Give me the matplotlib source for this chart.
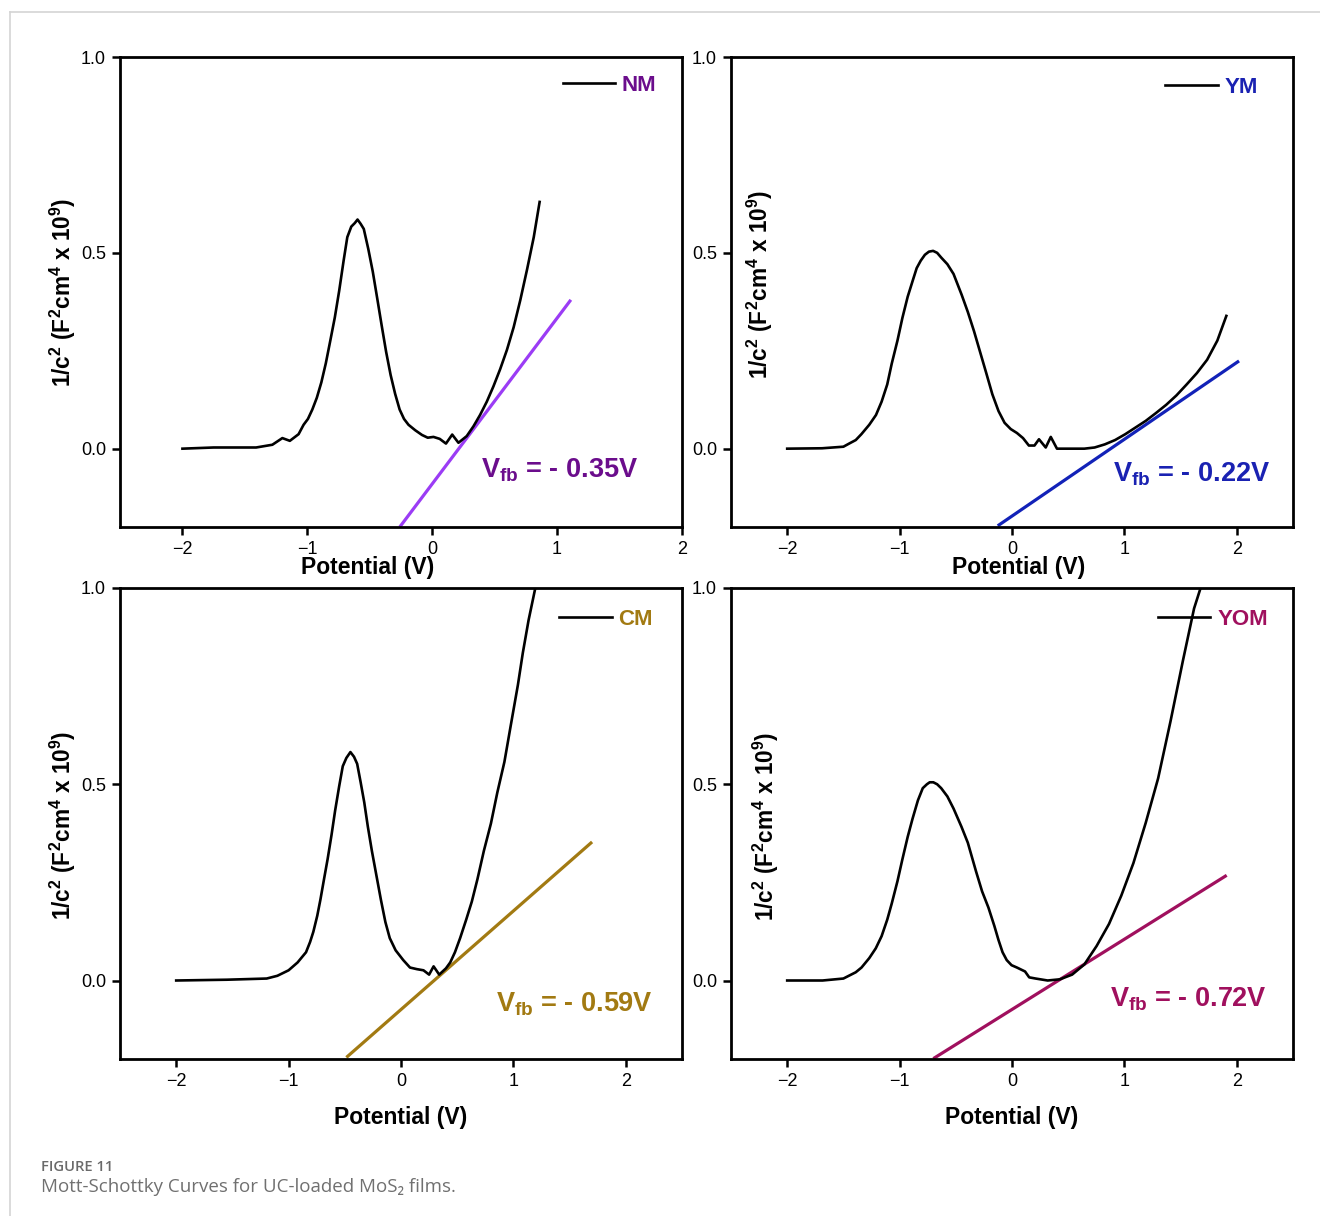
import matplotlib
matplotlib.use("Agg")
import matplotlib.pyplot as plt
from matplotlib.lines import Line2D

plt.rcParams.update({
    "font.family": ["Liberation Sans", "DejaVu Sans"],
    "mathtext.fontset": "custom",
    "mathtext.rm": "Liberation Sans:bold",
    "mathtext.bf": "Liberation Sans:bold",
    "mathtext.it": "Liberation Sans:bold",
    "mathtext.sf": "Liberation Sans:bold",
})

# ---- Mott-Schottky data: potential (V) vs 1/C^2 (F^2 cm^4 x 10^9) ----
nm_v = [-2.0, -1.75, -1.41, -1.28, -1.20, -1.14, -1.07, -1.03, -0.995, -0.96, -0.924,
        -0.888, -0.852, -0.816, -0.78, -0.745, -0.709, -0.68, -0.648, -0.62, -0.598,
        -0.573, -0.548, -0.512, -0.476, -0.44, -0.405, -0.369, -0.333, -0.297, -0.261,
        -0.226, -0.19, -0.136, -0.082, -0.036, 0.01, 0.06, 0.11, 0.16, 0.21, 0.276,
        0.33, 0.383, 0.437, 0.49, 0.544, 0.598, 0.652, 0.705, 0.759, 0.813, 0.86]
nm_c = [0.0, 0.003, 0.003, 0.010, 0.027, 0.020, 0.037, 0.061, 0.076, 0.100, 0.130,
        0.169, 0.218, 0.276, 0.335, 0.403, 0.481, 0.540, 0.567, 0.576, 0.585,
        0.574, 0.561, 0.510, 0.452, 0.383, 0.315, 0.247, 0.188, 0.140, 0.100,
        0.076, 0.061, 0.047, 0.035, 0.028, 0.030, 0.025, 0.013, 0.036, 0.015, 0.032,
        0.057, 0.086, 0.120, 0.159, 0.203, 0.252, 0.310, 0.379, 0.457, 0.540, 0.630]

ym_v = [-2.0, -1.69, -1.50, -1.449, -1.39, -1.34, -1.27, -1.21, -1.16, -1.11, -1.07,
        -1.019, -0.975, -0.928, -0.88, -0.848, -0.812, -0.775, -0.739, -0.702, -0.666,
        -0.63, -0.575, -0.52, -0.448, -0.393, -0.338, -0.284, -0.229, -0.175, -0.12,
        -0.066, -0.011, 0.044, 0.098, 0.15, 0.20, 0.24, 0.30, 0.345, 0.40, 0.644,
        0.735, 0.826, 0.917, 1.008, 1.099, 1.19, 1.281, 1.372, 1.463, 1.554, 1.645,
        1.736, 1.827, 1.907]
ym_c = [0.0, 0.001, 0.005, 0.013, 0.022, 0.037, 0.061, 0.086, 0.120, 0.164, 0.217,
        0.276, 0.334, 0.388, 0.432, 0.461, 0.480, 0.495, 0.503, 0.505, 0.500,
        0.488, 0.471, 0.446, 0.393, 0.349, 0.300, 0.247, 0.193, 0.139, 0.096,
        0.066, 0.050, 0.040, 0.027, 0.008, 0.008, 0.024, 0.003, 0.030, 0.0, 0.0,
        0.003, 0.011, 0.022, 0.037, 0.054, 0.071, 0.091, 0.112, 0.136, 0.164, 0.193,
        0.227, 0.276, 0.339]

cm_v = [-2.0, -1.55, -1.195, -1.10, -1.0, -0.92, -0.845, -0.809, -0.78, -0.745, -0.717,
        -0.685, -0.653, -0.618, -0.586, -0.55, -0.518, -0.486, -0.45, -0.418, -0.39,
        -0.359, -0.327, -0.295, -0.259, -0.219, -0.179, -0.139, -0.10, -0.048, 0.02,
        0.08, 0.14, 0.20, 0.25, 0.29, 0.34, 0.40, 0.438, 0.48, 0.526, 0.58, 0.63, 0.68,
        0.737, 0.80, 0.857, 0.92, 0.976, 1.04, 1.084, 1.135, 1.195, 1.22]
cm_c = [0.0, 0.002, 0.005, 0.012, 0.026, 0.046, 0.072, 0.098, 0.124, 0.165, 0.206,
        0.258, 0.309, 0.371, 0.433, 0.495, 0.546, 0.567, 0.582, 0.570, 0.552,
        0.505, 0.454, 0.392, 0.330, 0.268, 0.206, 0.149, 0.108, 0.077, 0.052,
        0.033, 0.029, 0.026, 0.015, 0.036, 0.015, 0.031, 0.046, 0.072, 0.108, 0.155,
        0.201, 0.258, 0.330, 0.400, 0.479, 0.557, 0.649, 0.753, 0.835, 0.918, 1.0, 1.04]

yom_v = [-2.0, -1.685, -1.50, -1.39, -1.339, -1.27, -1.212, -1.16, -1.11, -1.07, -1.019,
         -0.975, -0.928, -0.885, -0.837, -0.794, -0.757, -0.732, -0.70, -0.666, -0.63,
         -0.575, -0.52, -0.45, -0.393, -0.32, -0.266, -0.21, -0.157, -0.12, -0.084,
         -0.047, -0.004, 0.044, 0.116, 0.153, 0.21, 0.317, 0.426, 0.535, 0.644, 0.753,
         0.863, 0.972, 1.08, 1.19, 1.30, 1.41, 1.52, 1.62, 1.70]
yom_c = [0.0, 0.0, 0.005, 0.021, 0.033, 0.057, 0.082, 0.113, 0.155, 0.196, 0.253,
         0.309, 0.366, 0.412, 0.459, 0.490, 0.500, 0.505, 0.505, 0.500, 0.490,
         0.469, 0.438, 0.392, 0.351, 0.278, 0.227, 0.186, 0.139, 0.103, 0.072,
         0.052, 0.039, 0.033, 0.023, 0.008, 0.005, 0.0, 0.003, 0.015, 0.041, 0.088,
         0.144, 0.216, 0.299, 0.402, 0.515, 0.660, 0.814, 0.948, 1.02]

# linear fit segments (start/end points)
nm_fit_v, nm_fit_c = [-0.26, 1.11], [-0.20, 0.38]
ym_fit_v, ym_fit_c = [-0.127, 2.02], [-0.197, 0.224]
cm_fit_v, cm_fit_c = [-0.486, 1.70], [-0.196, 0.353]
yom_fit_v, yom_fit_c = [-0.70, 1.91], [-0.199, 0.268]

samples = ["NM", "YM", "CM", "YOM"]
vfb_labels = ["- 0.35V", "- 0.22V", "- 0.59V", "- 0.72V"]
vfb_pos = [(0.394, -0.074), (0.90, -0.083), (0.844, -0.079), (0.875, -0.066)]
text_colors = ["#6b0d8c", "#1a22b2", "#a27a12", "#a0105e"]
fit_colors = ["#9b3cf5", "#1222b8", "#a27a12", "#a0105e"]

x_ticks = [-2, -1, 0, 1, 2]
y_ticks = [0.0, 0.5, 1.0]
y_tick_labels = ["0.0", "0.5", "1.0"]

W, H = 1320, 1216
fig = plt.figure(figsize=(W / 100, H / 100), dpi=100)


def box(l, t, r, b):
    return [l / W, 1 - b / H, (r - l) / W, (b - t) / H]


axes_rects = [box(120, 57, 682, 527), box(731, 57, 1293, 527),
              box(120, 588, 682, 1059), box(731, 588, 1293, 1059)]
xlims = [(-2.5, 2.0), (-2.5, 2.5), (-2.5, 2.5), (-2.5, 2.5)]
curves = [(nm_v, nm_c), (ym_v, ym_c), (cm_v, cm_c), (yom_v, yom_c)]
fits = [(nm_fit_v, nm_fit_c), (ym_fit_v, ym_fit_c), (cm_fit_v, cm_fit_c), (yom_fit_v, yom_fit_c)]
xlabel_pos = [(0.44, -0.087), (0.512, -0.087), (0.5, -0.124), (0.5, -0.124)]
ylabel_pos = [(-0.102, 0.5), (0.051, 0.517), (-0.102, 0.497), (0.062, 0.494)]
legend_anchor = [(0.954, 0.962), (0.937, 0.957), (0.948, 0.956), (0.955, 0.955)]

for i in range(4):
    ax = fig.add_axes(axes_rects[i])
    v, c = curves[i]
    fv, fc = fits[i]
    ax.plot(fv, fc, color=fit_colors[i], lw=2.3, solid_capstyle="butt", zorder=2)
    ax.plot(v, c, color="black", lw=1.9, label=samples[i], zorder=3)
    ax.set_xlim(*xlims[i])
    ax.set_ylim(-0.2, 1.0)
    ax.set_xticks(x_ticks)
    ax.set_yticks(y_ticks)
    ax.set_yticklabels(y_tick_labels)
    for s in ax.spines.values():
        s.set_linewidth(2.0)
    ax.tick_params(direction="out", length=6, width=1.8, labelsize=13, pad=4)
    ax.tick_params(axis="x", pad=4)

    ax.set_xlabel("Potential (V)", fontsize=16.5, fontweight="bold", va="center")
    ax.xaxis.set_label_coords(*xlabel_pos[i])
    ax.set_ylabel(r"1/c$^2$ (F$^2$cm$^4$ x 10$^9$)", fontsize=16.3, fontweight="bold",
                  va="center")
    ax.yaxis.set_label_coords(*ylabel_pos[i])

    leg = ax.legend(loc="upper right", bbox_to_anchor=legend_anchor[i], frameon=False,
                    borderaxespad=0, borderpad=0, handlelength=2.35, handletextpad=0.3,
                    prop={"weight": "bold", "size": 16})
    for t in leg.get_texts():
        t.set_color(text_colors[i])

    tx, ty = vfb_pos[i]
    ax.text(tx, ty, r"V$_{\rm fb}$ = " + vfb_labels[i], color=text_colors[i],
            fontsize=19.5, fontweight="bold", ha="left", va="baseline")

# page frame
fig.add_artist(Line2D([10 / W, 1.0], [1 - 12 / H, 1 - 12 / H], color="#d4d4d4", lw=1.2))
fig.add_artist(Line2D([10 / W, 10 / W], [1 - 12 / H, 0.0], color="#d4d4d4", lw=1.2))

fig.text(41 / W, 1 - 1167 / H, "FIGURE 11", family=["Open Sans", "DejaVu Sans"],
         fontweight="semibold", fontsize=10.6, color="#6a6a6a", va="center", ha="left")
fig.text(41 / W, 1 - 1187 / H, "Mott-Schottky Curves for UC-loaded MoS\u2082 films.",
         family=["Open Sans", "DejaVu Sans"], fontsize=13.5, color="#707070",
         va="center", ha="left")

fig.savefig("out.png", dpi=100)
